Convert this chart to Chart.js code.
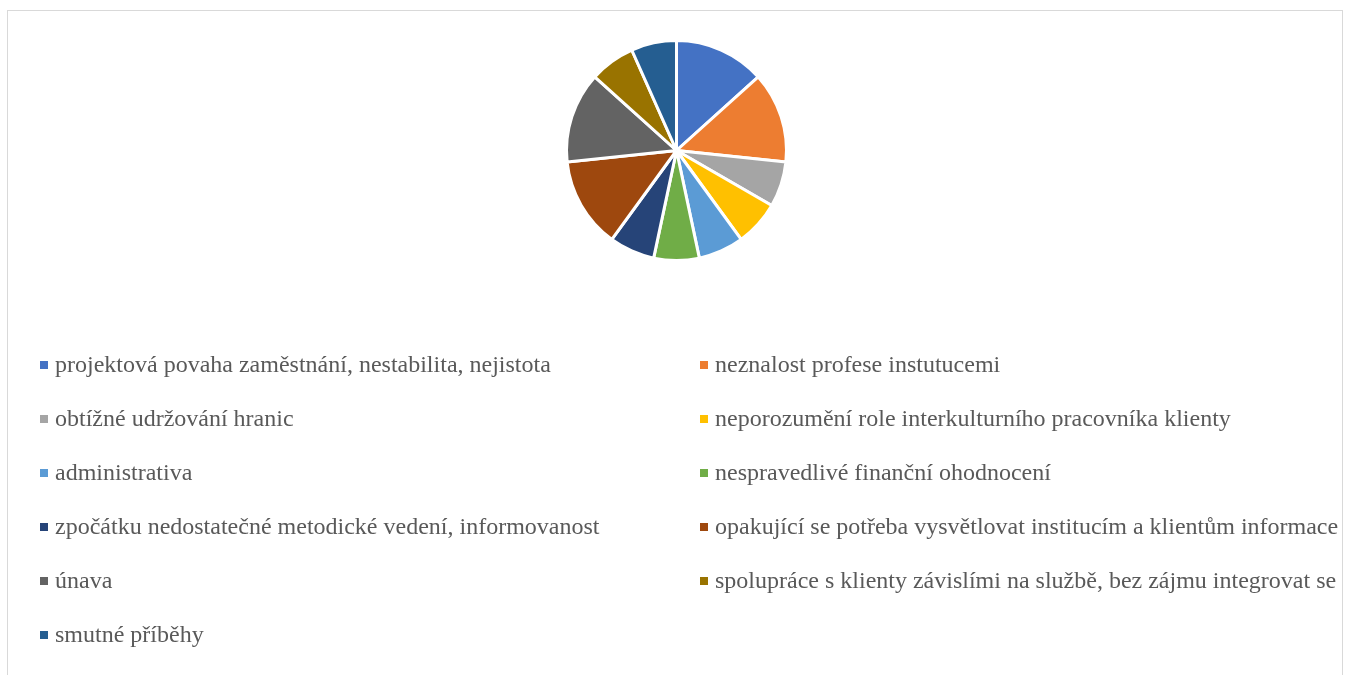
<!DOCTYPE html>
<html>
<head>
<meta charset="utf-8">
<script src="https://cdn.jsdelivr.net/npm/chart.js@4/dist/chart.umd.min.js"></script>
<style>
	html, body { margin: 0; padding: 0; background: #fff; }
	#frame {
		position: absolute; left: 7px; top: 10px; width: 1336px; height: 680px;
		border: 1px solid #d9d9d9; box-sizing: border-box;
	}
	#pie-box { position: absolute; left: 0; top: 0; width: 1334px; height: 665px; }
</style>
</head>
<body>
<div id="frame">
	<div id="pie-box"><canvas id="pie-chart"></canvas></div>
</div>
<script>
'use strict';

const labels = [
	'projektová povaha zaměstnání, nestabilita, nejistota',
	'neznalost profese instutucemi',
	'obtížné udržování hranic',
	'neporozumění role interkulturního pracovníka klienty',
	'administrativa',
	'nespravedlivé finanční ohodnocení',
	'zpočátku nedostatečné metodické vedení, informovanost',
	'opakující se potřeba vysvětlovat institucím a klientům informace',
	'únava',
	'spolupráce s klienty závislími na službě, bez zájmu integrovat se',
	'smutné příběhy',
];
const counts = [2, 2, 1, 1, 1, 1, 1, 2, 2, 1, 1];
const colors = [
	'#4472C4', '#ED7D31', '#A5A5A5', '#FFC000', '#5B9BD5', '#70AD47',
	'#264478', '#9E480E', '#636363', '#997300', '#255E91',
];

// two-column legend like the office one, drawn under the pie
const columnLegend = {
	id: 'columnLegend',
	afterDraw(chart) {
		const ctx = chart.ctx;
		const names = chart.data.labels;
		const fills = chart.data.datasets[0].backgroundColor;
		ctx.save();
		ctx.font = '24px "Liberation Serif", serif';
		ctx.textBaseline = 'middle';
		ctx.textAlign = 'left';
		names.forEach((name, i) => {
			const x = i % 2 === 0 ? 32 : 692;
			const y = 354 + Math.floor(i / 2) * 54;
			ctx.fillStyle = fills[i];
			ctx.fillRect(x, y - 4, 8, 8);
			ctx.fillStyle = '#595959';
			ctx.fillText(name, x + 15, y + 1);
		});
		ctx.restore();
	},
};

function makePieChart() {
	const ctx = document.querySelector('#pie-chart').getContext('2d');
	return new Chart(ctx, {
		type: 'pie',
		data: {
			labels: labels,
			datasets: [{
				data: counts,
				backgroundColor: colors,
				borderColor: '#ffffff',
				borderWidth: 3,
			}],
		},
		options: {
			responsive: true,
			maintainAspectRatio: false,
			animation: false,
			layout: { padding: { top: 28, bottom: 414, left: 3 } },
			plugins: {
				legend: { display: false },
				tooltip: { enabled: false },
			},
		},
		plugins: [columnLegend],
	});
}

makePieChart();
</script>
</body>
</html>
